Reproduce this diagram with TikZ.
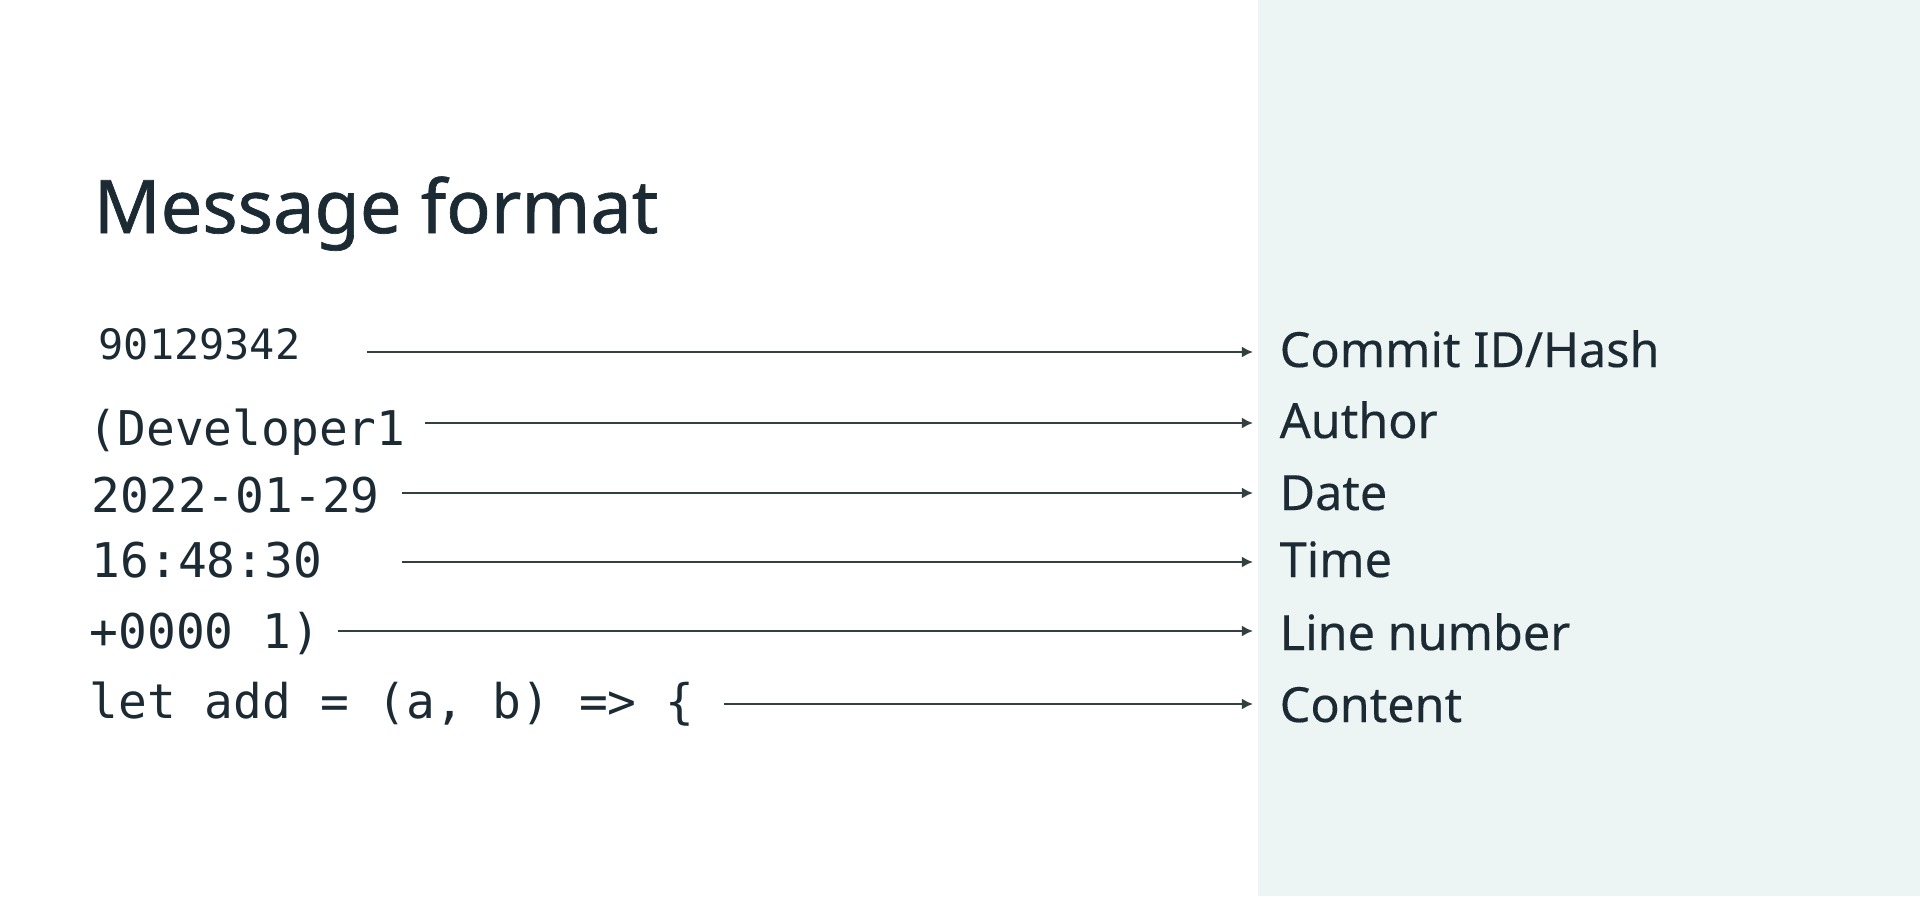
\documentclass[tikz,border=0pt]{standalone}
\usepackage{fontspec}
\setmainfont{Noto Sans}
\setmonofont{DejaVu Sans Mono}
\newfontfamily\headfont[FakeBold=0.9]{Noto Sans}
\newfontfamily\fieldfont[FakeBold=0.3]{Noto Sans}
\usetikzlibrary{arrows.meta}

\definecolor{ink}{HTML}{1C2B33}
\definecolor{wirecol}{HTML}{34403F}
\definecolor{panel}{HTML}{EDF4F4}

\begin{document}
\begin{tikzpicture}[x=0.01cm, y=-0.01cm,
    code/.style={font=\ttfamily\fontsize{13.6}{16}\selectfont, text=ink, inner sep=0pt, anchor=base west},
    field/.style={font=\fieldfont\fontsize{13.8}{16}\selectfont, text=ink, inner ysep=0pt, inner xsep=7.4pt, anchor=base west},
    wire/.style={-{Latex[length=3.2pt,width=3.2pt]}, draw=wirecol, line width=0.7pt}]

    % background and right panel
    \fill[white] (0,0) rectangle (1920,896);
    \fill[panel] (1258,0) rectangle (1920,896);

    \node[font=\headfont\fontsize{21}{25}\selectfont, text=ink, inner sep=0pt, anchor=base west] (title) at (93,233) {Message format};

    % blame line, split into its fields
    \node[code, font=\ttfamily\fontsize{11.9}{14}\selectfont] (hash) at (98,359) {90129342};
    \node[code] (author) at (88,445) {(Developer1};
    \node[code] (date) at (91,512) {2022-01-29};
    \node[code] (time) at (91,577) {16:48:30};
    \node[code] (lineno) at (89,648) {+0000 1)};
    \node[code] (content) at (89,718) {let add = (a, b) => \{};

    % what each field means
    \node[field] (hash-lbl) at (1253,367) {Commit ID/Hash};
    \node[field] (author-lbl) at (1253,438) {Author};
    \node[field] (date-lbl) at (1253,510) {Date};
    \node[field] (time-lbl) at (1253,577) {Time};
    \node[field] (lineno-lbl) at (1253,650) {Line number};
    \node[field] (content-lbl) at (1253,722) {Content};

    \foreach \n/\x/\y in {hash/367/352, author/425/423, date/402/493, time/402/562, lineno/338/631, content/724/704} {
        \coordinate (\n-s) at (\x,\y);
        \draw[wire] (\n-s) -- (\n-s -| \n-lbl.west);
    }
\end{tikzpicture}
\end{document}
